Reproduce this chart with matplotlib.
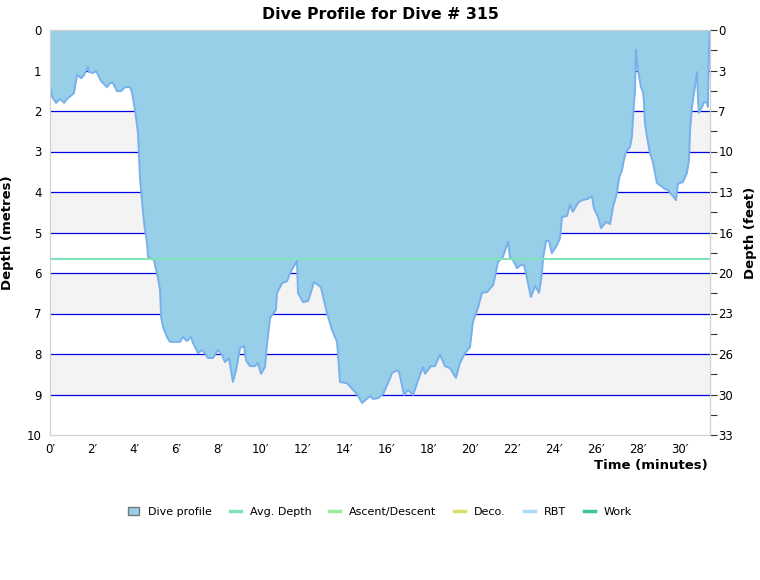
import matplotlib
matplotlib.use("Agg")
import matplotlib.pyplot as plt
from matplotlib.lines import Line2D
from matplotlib.patches import Patch

# --- data: time (min) and depth (m) ---
time_min = [0.00, 0.05, 0.10, 0.29, 0.48, 0.67, 0.81, 1.14, 1.29, 1.48, 1.62, 1.81, 1.86,
            2.05, 2.19, 2.43, 2.52, 2.71, 2.86, 3.00, 3.19, 3.38, 3.57, 3.81, 3.90, 4.05,
            4.19, 4.24, 4.29, 4.38, 4.48, 4.62, 4.67, 4.95, 5.14, 5.24, 5.29, 5.38, 5.57,
            5.71, 6.19, 6.33, 6.52, 6.71, 6.81, 7.05, 7.24, 7.38, 7.52, 7.76, 8.00, 8.19,
            8.33, 8.52, 8.71, 8.86, 9.05, 9.24, 9.33, 9.52, 9.76, 9.90, 10.05, 10.24, 10.33,
            10.48, 10.57, 10.76, 10.81, 11.05, 11.29, 11.43, 11.76, 11.81, 12.05, 12.29,
            12.43, 12.57, 12.90, 13.19, 13.43, 13.67, 13.81, 14.14, 14.62, 14.86, 15.24,
            15.38, 15.62, 15.86, 16.05, 16.29, 16.52, 16.62, 16.86, 17.05, 17.29, 17.48,
            17.76, 17.86, 18.14, 18.33, 18.57, 18.81, 19.05, 19.33, 19.52, 19.76, 20.00,
            20.14, 20.38, 20.57, 20.81, 21.10, 21.19, 21.33, 21.57, 21.81, 21.90, 22.05,
            22.24, 22.43, 22.57, 22.71, 22.90, 23.10, 23.29, 23.43, 23.48, 23.62, 23.76,
            23.90, 24.14, 24.29, 24.38, 24.62, 24.76, 24.90, 25.14, 25.33, 25.62, 25.81,
            25.90, 26.10, 26.24, 26.48, 26.67, 26.81, 27.00, 27.10, 27.24, 27.33, 27.43,
            27.62, 27.71, 27.76, 27.81, 27.86, 27.90, 27.95, 28.00, 28.14, 28.24, 28.29,
            28.33, 28.43, 28.57, 28.71, 28.90, 29.10, 29.29, 29.43, 29.52, 29.67, 29.81,
            29.90, 30.14, 30.33, 30.43, 30.48, 30.57, 30.71, 30.81, 30.86, 30.90, 31.05,
            31.14, 31.29, 31.33, 31.38, 31.43]
depth_m = [1.43, 1.48, 1.65, 1.80, 1.70, 1.80, 1.70, 1.56, 1.11, 1.19, 1.11, 0.91, 1.04,
           1.06, 1.01, 1.26, 1.31, 1.41, 1.31, 1.31, 1.51, 1.51, 1.41, 1.41, 1.53, 1.98,
           2.54, 3.14, 3.70, 4.20, 4.77, 5.26, 5.60, 5.68, 6.12, 6.42, 7.09, 7.33, 7.58,
           7.70, 7.70, 7.58, 7.68, 7.58, 7.73, 7.98, 7.90, 7.98, 8.10, 8.10, 7.90, 8.02,
           8.20, 8.10, 8.69, 8.40, 7.85, 7.80, 8.15, 8.30, 8.30, 8.22, 8.49, 8.32, 7.78,
           7.11, 7.04, 6.91, 6.49, 6.25, 6.20, 6.00, 5.70, 6.49, 6.72, 6.69,
           6.47, 6.22, 6.35, 6.99, 7.41, 7.70, 8.69, 8.72, 8.99, 9.21, 9.04,
           9.11, 9.09, 8.99, 8.77, 8.47, 8.40, 8.44, 9.01, 8.89, 9.01, 8.72,
           8.32, 8.49, 8.30, 8.30, 8.02, 8.30, 8.35, 8.59, 8.22, 7.98, 7.83,
           7.21, 6.86, 6.49, 6.47, 6.30, 6.10, 5.73, 5.60, 5.23, 5.60, 5.68,
           5.88, 5.80, 5.80, 6.12, 6.59, 6.32, 6.49, 6.00, 5.63, 5.21, 5.21,
           5.51, 5.31, 5.14, 4.62, 4.59, 4.32, 4.49, 4.27, 4.20, 4.17, 4.10,
           4.40, 4.62, 4.89, 4.74, 4.79, 4.37, 4.02, 3.65, 3.46, 3.21, 3.01,
           2.89, 2.64, 2.22, 1.80, 1.48, 0.49, 0.79, 0.99, 1.41, 1.53, 1.80,
           2.30, 2.64, 3.04, 3.26, 3.78, 3.85, 3.93, 3.95, 4.02, 4.10, 4.20,
           3.80, 3.75, 3.53, 3.21, 2.47, 1.90, 1.41, 1.04, 1.73, 2.05, 1.90,
           1.78, 1.80, 1.90, 0.49, 0.00]
avg_depth = 5.65
metre_ticks = [0, 1, 2, 3, 4, 5, 6, 7, 8, 9, 10]
feet_labels = ["0", "3", "7", "10", "13", "16", "20", "23", "26", "30", "33"]
minute_ticks = list(range(0, 31, 2))

legend_names = ["Dive profile", "Avg. Depth", "Ascent/Descent", "Deco.", "RBT", "Work"]
legend_colors = ["#97cfe9", "#80e4b8", "#9ceb9c", "#dbe06a", "#a8dcf4", "#3cc596"]

plt.rcParams["font.family"] = ["DejaVu Sans"]

fig = plt.figure(figsize=(7.6, 5.8), dpi=100)
ax = fig.add_axes([50 / 760, 1 - 435 / 580, 660 / 760, 405 / 580])

# --- фон: полосы и сетка ---
for k in range(0, 10, 2):
    ax.axhspan(k, k + 1, color="#f3f3f3", lw=0, zorder=0)
for k in range(1, 10):
    ax.axhline(k, color="#0000e6", lw=0.9, zorder=1, snap=True)

# --- профиль ---
ax.fill_between(time_min, 0, depth_m, color=legend_colors[0], lw=0, zorder=2)
ax.plot(time_min, depth_m, color="#78b0ec", lw=1.4, zorder=3)
ax.axhline(avg_depth, color=legend_colors[1], lw=1.5, zorder=4)

ax.set_xlim(0, max(time_min))
ax.set_ylim(10, 0)
ax.set_yticks(metre_ticks)
ax.set_xticks(minute_ticks)
ax.set_xticklabels([f"{m}\u2032" for m in minute_ticks])
ax.tick_params(axis="both", length=0, labelsize=8.5, pad=6)
for s in ax.spines.values():
    s.set_color("#d0d0d0")

ax.set_ylabel("Depth (metres)", fontsize=9.5, fontweight="bold", labelpad=9)
ax.set_title("Dive Profile for Dive # 315", fontsize=11.3, fontweight="bold", pad=8)
fig.text(708 / 760, 1 - 466 / 580, "Time (minutes)", ha="right", va="center",
         fontsize=9.5, fontweight="bold")

# --- правая ось в футах ---
ax2 = ax.twinx()
ax2.set_ylim(10, 0)
ax2.set_yticks(metre_ticks)
ax2.set_yticklabels(feet_labels)
ax2.set_yticks([k + 0.5 for k in range(10)], minor=True)
ax2.tick_params(axis="y", which="both", length=5, width=0.8, color="#333333",
                labelsize=8.5, pad=1)
for s in ax2.spines.values():
    s.set_color("#d0d0d0")
ax2.set_ylabel("Depth (feet)", fontsize=9.5, fontweight="bold", labelpad=8)

# --- легенда ---
handles = [Patch(facecolor=legend_colors[0], edgecolor="#777777", lw=1)]
handles += [Line2D([], [], color=c, lw=2.5) for c in legend_colors[1:]]
fig.legend(handles, legend_names, loc="center", bbox_to_anchor=(0.5, 1 - 512 / 580),
           ncol=6, frameon=False, fontsize=8, handlelength=1.0, handleheight=0.8,
           columnspacing=1.6, handletextpad=0.8)

fig.savefig("out.png", dpi=100)
plt.close(fig)
